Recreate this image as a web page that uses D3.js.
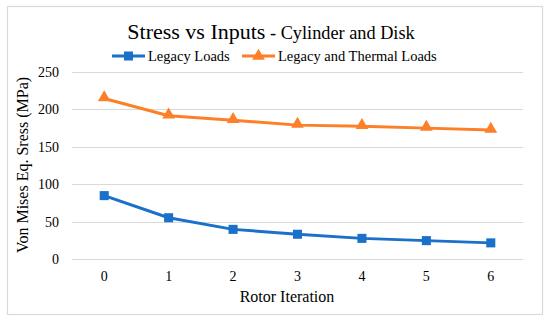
<!DOCTYPE html>
<html>
<head>
<meta charset="utf-8">
<script src="https://cdn.jsdelivr.net/npm/d3@7"></script>
<style>
  html, body { margin: 0; padding: 0; background: #fff; }
  svg { display: block; }
  svg text { font-family: "Liberation Serif", "Times New Roman", Tinos, Times, "Nimbus Roman", "DejaVu Serif", "Noto Serif", serif !important; fill: #000; }
</style>
</head>
<body>
<svg id="chart" width="550" height="322"></svg>
<script>
const categories = ["0", "1", "2", "3", "4", "5", "6"];
const legacyLoads = [84.5, 55, 39.5, 33, 27.5, 24.5, 21.5];
const legacyThermalLoads = [214, 191, 185, 178.5, 177, 174.5, 172];
const yTicks = [0, 50, 100, 150, 200, 250];
const seriesNames = ["Legacy Loads", "Legacy and Thermal Loads"];
const seriesColors = ["#1b70c9", "#fd7f28"];

const svg = d3.select("#chart");

svg.append("rect").attr("x", 7.5).attr("y", 6.5).attr("width", 535).attr("height", 308)
  .attr("fill", "#fff").attr("stroke", "#d9d9d9").attr("stroke-width", 1.2);

const x = d3.scaleBand().domain(categories).range([72, 523]).padding(0);
const y = d3.scaleLinear().domain([0, 250]).range([259, 71.5]);

svg.append("g").selectAll("line").data(yTicks).join("line")
  .attr("x1", 72).attr("x2", 523)
  .attr("y1", d => Math.round(y(d)) + 0.5).attr("y2", d => Math.round(y(d)) + 0.5)
  .attr("stroke", "#d9d9d9").attr("stroke-width", 1);

const yAxis = d3.axisLeft(y).tickValues(yTicks).tickSize(0).tickPadding(0);
const gy = svg.append("g").attr("transform", "translate(59,0)").call(yAxis);
gy.attr("font-family", null);
gy.select(".domain").remove();
gy.selectAll("text").attr("font-size", 14).attr("fill", "#000").attr("dy", "0.35em");

const xAxis = d3.axisBottom(x).tickSize(0).tickPadding(0);
const gx = svg.append("g").attr("transform", "translate(0,270)").call(xAxis);
gx.attr("font-family", null);
gx.select(".domain").remove();
gx.selectAll("text").attr("font-size", 14).attr("fill", "#000").attr("dy", "0.8em");

const cx = d => x(d) + x.bandwidth() / 2;

svg.append("text").attr("x", 287).attr("y", 302).attr("text-anchor", "middle")
  .attr("font-size", 16).text("Rotor Iteration");
svg.append("text").attr("transform", "translate(28,165) rotate(-90)").attr("text-anchor", "middle")
  .attr("font-size", 16).text("Von Mises Eq. Sress (MPa)");

const title = svg.append("text").attr("x", 271).attr("y", 39).attr("text-anchor", "middle");
title.append("tspan").attr("font-size", 22).text("Stress vs Inputs");
title.append("tspan").attr("font-size", 18.3).text(" - Cylinder and Disk");

const seriesData = [legacyLoads, legacyThermalLoads];
const line = d3.line().x((d, i) => cx(categories[i])).y(d => y(d));
const sq = d3.symbol().type(d3.symbolSquare).size(82);
const tri = d3.symbol().type(d3.symbolTriangle).size(70);

seriesData.forEach((vals, si) => {
  svg.append("path").datum(vals).attr("d", line).attr("fill", "none")
    .attr("stroke", seriesColors[si]).attr("stroke-width", 3).attr("stroke-linejoin", "round");
  svg.append("g").selectAll("path").data(vals).join("path")
    .attr("transform", (d, i) => `translate(${cx(categories[i])},${y(d) + (si === 1 ? -1 : 0)})`)
    .attr("d", si === 0 ? sq : tri)
    .attr("fill", seriesColors[si]);
});

const legendItems = [
  { name: seriesNames[0], color: seriesColors[0], x1: 112, x2: 145, sym: sq },
  { name: seriesNames[1], color: seriesColors[1], x1: 242, x2: 275, sym: tri }
];
const lg = svg.append("g");
legendItems.forEach(it => {
  lg.append("line").attr("x1", it.x1).attr("x2", it.x2).attr("y1", 56).attr("y2", 56)
    .attr("stroke", it.color).attr("stroke-width", 3);
  lg.append("path").attr("d", it.sym).attr("transform", `translate(${(it.x1 + it.x2) / 2},56)`).attr("fill", it.color);
  lg.append("text").attr("x", it.x2 + 3).attr("y", 61).attr("font-size", 14.5).text(it.name);
});
</script>
</body>
</html>
